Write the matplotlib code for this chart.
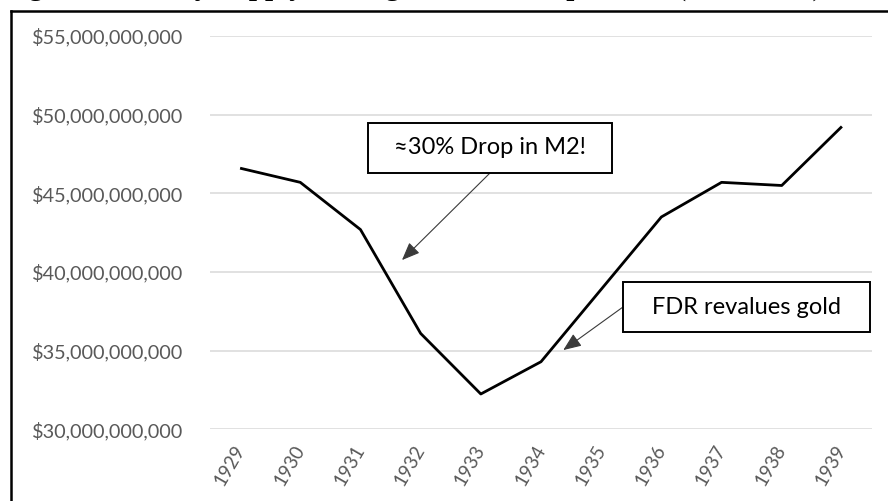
import matplotlib
matplotlib.use("Agg")
import matplotlib.pyplot as plt
from matplotlib.lines import Line2D
from matplotlib.patches import Rectangle
from matplotlib.ticker import FuncFormatter, MultipleLocator
import numpy as np

years = ["1929", "1930", "1931", "1932", "1933", "1934", "1935", "1936", "1937", "1938", "1939"]
m2_billions = [46.6, 45.7, 42.7, 36.1, 32.25, 34.3, 38.9, 43.5, 45.7, 45.5, 49.25]
m2 = [v * 1e9 for v in m2_billions]

note_drop = "≈30% Drop in M2!"
note_fdr = "FDR revalues gold"
title = "Figure 3: Money Supply During the Great Depression (1929-1939)"

W, H = 888, 501
fig = plt.figure(figsize=(W / 100, H / 100), dpi=100)
fig.patch.set_facecolor("white")

AX_L, AX_R, AX_T, AX_B = 210, 872, 36, 429.4
ax = fig.add_axes([AX_L / W, 1 - AX_B / H, (AX_R - AX_L) / W, (AX_B - AX_T) / H])
x = np.arange(len(years))
ax.plot(x, m2, color="black", lw=2.0, solid_joinstyle="round", solid_capstyle="butt", zorder=3)

ax.set_xlim(-0.5, len(years) - 0.5)
ax.set_ylim(30e9, 55e9)
ax.yaxis.set_major_locator(MultipleLocator(5e9))
ax.yaxis.set_major_formatter(FuncFormatter(lambda v, p: f"${v:,.0f}"))
ax.grid(axis="y", color="#d9d9d9", lw=1.1, zorder=0)
ax.set_axisbelow(True)
for s in ax.spines.values():
    s.set_visible(False)

font = ["Lato", "DejaVu Sans"]
ax.tick_params(axis="y", length=0, pad=19, labelsize=14.3, labelcolor="#595959")
ax.tick_params(axis="x", length=0, pad=12, labelsize=13.5, labelcolor="#595959")
ax.set_xticks(x)
ax.set_xticklabels(years, rotation=60, ha="right", va="center", rotation_mode="anchor")
for lab in ax.get_yticklabels() + ax.get_xticklabels():
    lab.set_family(font)


def px(xp, yp):
    """pixel position (from top-left of figure) -> axes fraction"""
    return ((xp - AX_L) / (AX_R - AX_L), (AX_B - yp) / (AX_B - AX_T))


def note_box(text, x0, y0, x1, y1):
    (fx0, fy1), (fx1, fy0) = px(x0, y0), px(x1, y1)
    ax.add_patch(Rectangle((fx0, fy0), fx1 - fx0, fy1 - fy0, transform=ax.transAxes,
                           fc="white", ec="black", lw=1.4, zorder=5, clip_on=False))
    ax.text((fx0 + fx1) / 2, (fy0 + fy1) / 2, text, transform=ax.transAxes,
            ha="center", va="center", fontsize=17, family=font, color="black", zorder=6)


arrow_kw = dict(arrowstyle="-|>,head_length=1.1,head_width=0.45", color="#3a3a3a",
                lw=0.8, mutation_scale=10, shrinkA=0, shrinkB=0)
note_box(note_drop, 368, 123, 612, 173)
ax.annotate("", xy=(2.69, 40.76e9), xytext=px(490, 173), textcoords="axes fraction",
            arrowprops=arrow_kw, zorder=4)
note_box(note_fdr, 623, 282, 870, 332)
ax.annotate("", xy=(5.37, 35.04e9), xytext=px(623, 307), textcoords="axes fraction",
            arrowprops=arrow_kw, zorder=4)

# outer chart frame (left and top edges visible)
fig.add_artist(Line2D([10.5 / W, 10.5 / W], [0, 1 - 10.5 / H], color="black", lw=1.8,
                      transform=fig.transFigure))
fig.add_artist(Line2D([10.5 / W, 1], [1 - 10.5 / H, 1 - 10.5 / H], color="black", lw=1.8,
                      transform=fig.transFigure))

fig.text(3 / W, 1 + 5 / H, title, family="Liberation Serif", weight="bold", fontsize=21,
         ha="left", va="baseline", color="black")

fig.savefig("out.png", dpi=100, facecolor="white")
